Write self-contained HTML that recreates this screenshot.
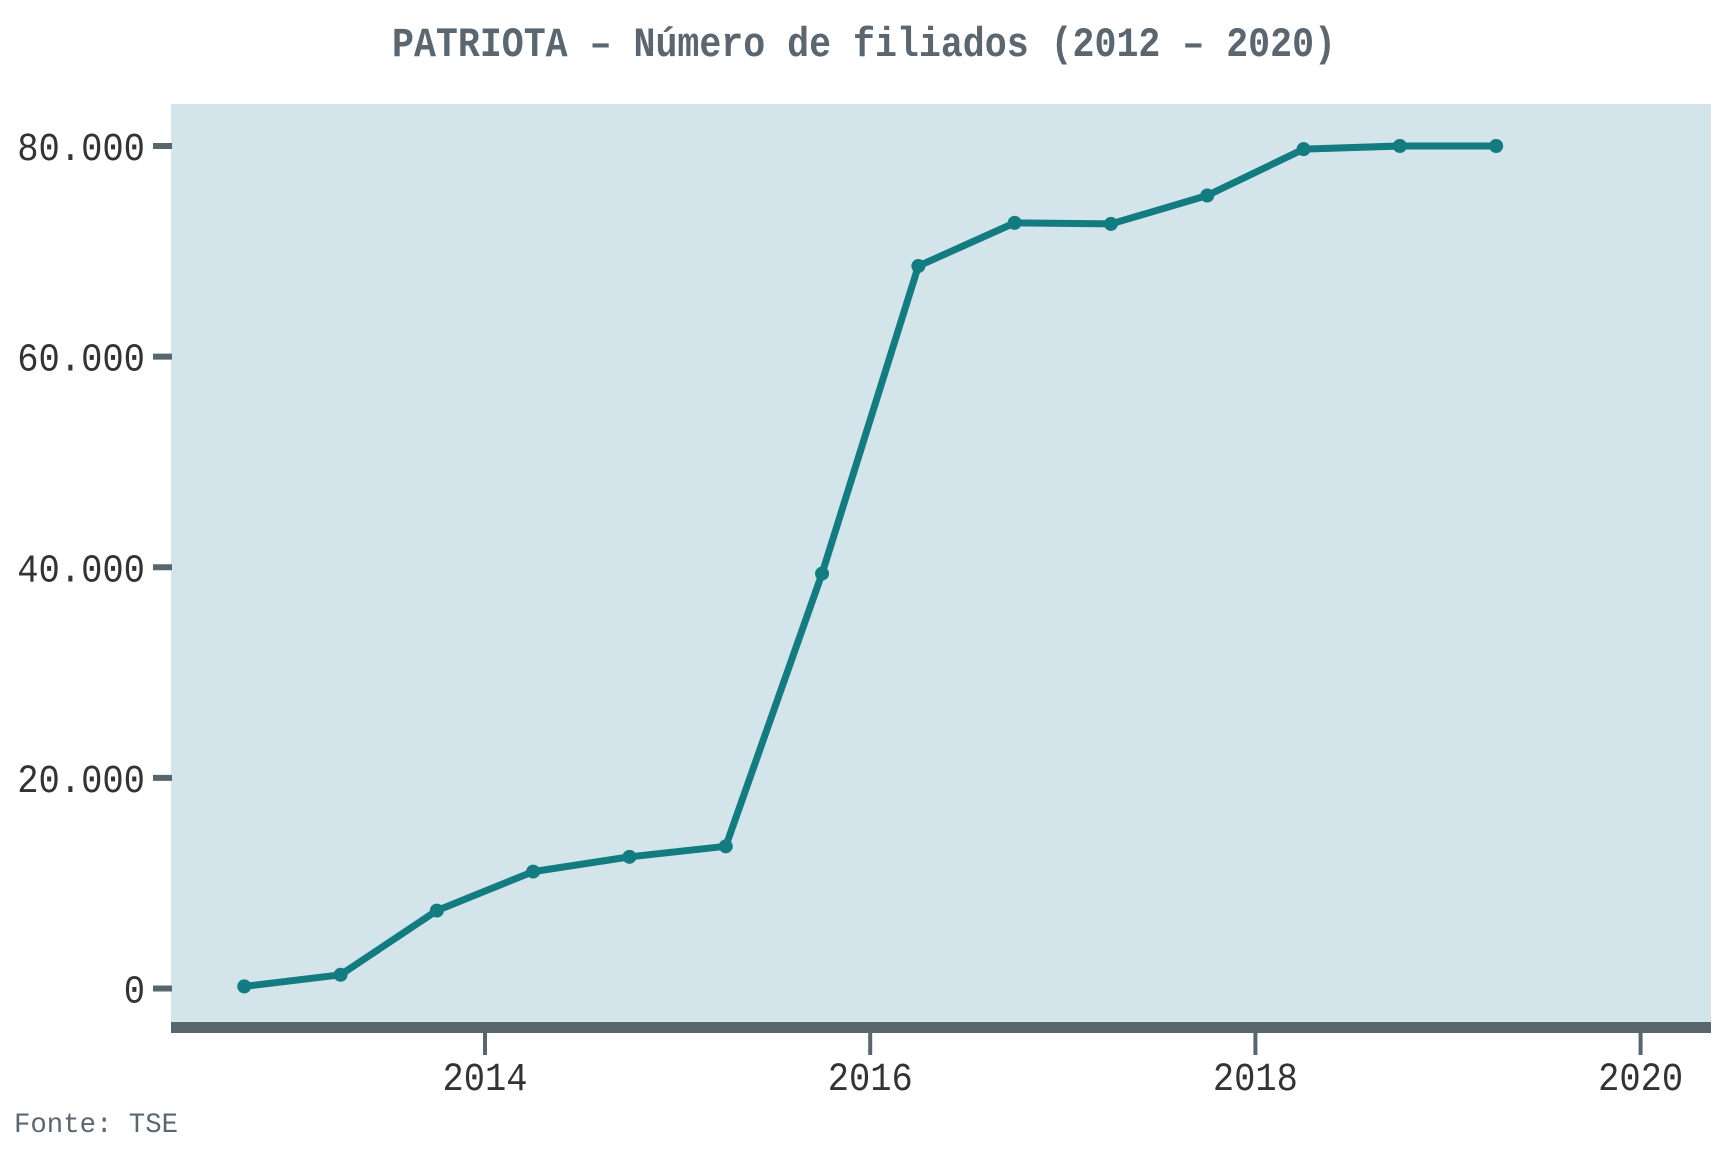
<!DOCTYPE html>
<html><head><meta charset="utf-8"><style>
body{margin:0;background:#fff}
svg{display:block}
text{font-family:"Liberation Mono","DejaVu Sans Mono",monospace}
</style></head><body>
<svg id="chart" width="1728" height="1152" viewBox="0 0 1728 1152">
<text x="864" y="56" text-anchor="middle" font-size="42" font-weight="bold" fill="#5b6770" textLength="944" lengthAdjust="spacingAndGlyphs">PATRIOTA – Número de filiados (2012 – 2020)</text>
<rect x="171" y="104" width="1540" height="919" fill="#d4e4eb"/>
<rect x="171" y="1022" width="1540" height="11" fill="#5a666e"/>
<g id="yaxis"></g>
<g id="xaxis"></g>
<g id="series"></g>
<text x="14" y="1132" font-size="28" fill="#5b6770" textLength="164" lengthAdjust="spacingAndGlyphs">Fonte: TSE</text>
</svg>
<script>
const dates=[2012.75,2013.25,2013.75,2014.25,2014.75,2015.25,2015.75,2016.25,2016.75,2017.25,2017.75,2018.25,2018.75,2019.25];
const members=[200,1300,7400,11100,12500,13500,39400,68600,72700,72600,75300,79700,80000,80000];
const yTicks=[0,20000,40000,60000,80000];
const yTickLabels=["0","20.000","40.000","60.000","80.000"];
const xTicks=[2014,2016,2018,2020];
const xTickLabels=["2014","2016","2018","2020"];
const NS="http://www.w3.org/2000/svg";
function sx(v){return 485+(v-2014)*192.6;}
function sy(v){return 988.5-v*(842.5/80000);}
function mk(tag,attrs,parent){const e=document.createElementNS(NS,tag);for(const k in attrs)e.setAttribute(k,attrs[k]);parent.appendChild(e);return e;}
const ya=document.getElementById('yaxis'),xa=document.getElementById('xaxis'),se=document.getElementById('series');
yTicks.forEach((v,i)=>{
 const t=mk('rect',{x:153,y:sy(v)-3,width:19,height:6,fill:'#5a666e'},ya);
 
 
 const lab=yTickLabels[i];
 const l=mk('text',{x:145,y:sy(v)+14,'text-anchor':'end','font-size':40,fill:'#333',textLength:lab.length*21.3,lengthAdjust:'spacingAndGlyphs'},ya);
 l.textContent=lab;
 
 
});
xTicks.forEach((v,i)=>{
 const t=mk('rect',{x:sx(v)-2,y:1033,width:4,height:22,fill:'#5a666e'},xa);
 
 
 const l=mk('text',{x:sx(v),y:1090,'text-anchor':'middle','font-size':40,fill:'#333',textLength:85,lengthAdjust:'spacingAndGlyphs'},xa);
 l.textContent=xTickLabels[i];
 
 
});
const pts=dates.map((d,i)=>sx(d)+','+sy(members[i])).join(' ');
const pl=mk('polyline',{points:pts,fill:'none',stroke:'#127c80','stroke-width':7,'stroke-linejoin':'round'},se);


dates.forEach((d,i)=>{
 const c=mk('circle',{cx:sx(d),cy:sy(members[i]),r:7,fill:'#127c80'},se);
 
 
});
</script>
</body></html>
